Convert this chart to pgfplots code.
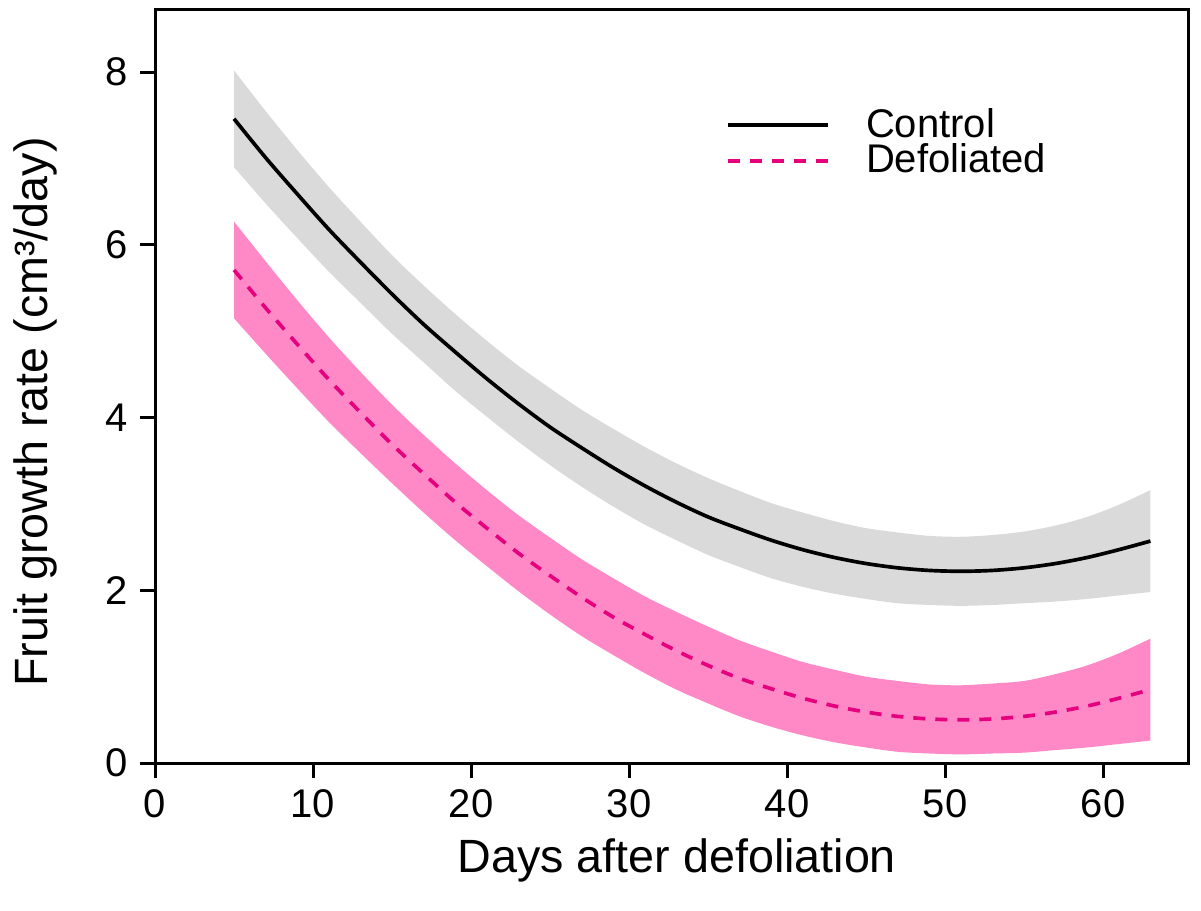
\documentclass[border=0pt]{standalone}
\usepackage{fontspec}
\setmainfont{Liberation Sans}
\usepackage{pgfplots}
\usepackage{pgfplotstable}
\pgfplotsset{compat=1.18}
\usepgfplotslibrary{fillbetween}

\definecolor{bandgray}{RGB}{218,218,218}
\definecolor{bandpink}{RGB}{255,137,199}
\definecolor{defol}{RGB}{230,0,126}

% fitted curves and confidence bands
\pgfplotstableread{
x   c     clo   chi
5   7.46  6.90  8.02
7   7.01  6.48  7.55
9   6.59  6.08  7.10
11  6.18  5.69  6.67
13  5.80  5.33  6.27
15  5.43  4.97  5.88
17  5.08  4.64  5.53
19  4.76  4.31  5.20
21  4.45  4.01  4.89
23  4.16  3.72  4.60
25  3.89  3.45  4.34
27  3.65  3.20  4.09
29  3.42  2.97  3.87
31  3.21  2.76  3.66
33  3.02  2.58  3.47
35  2.85  2.41  3.30
37  2.71  2.27  3.15
39  2.58  2.14  3.01
41  2.47  2.04  2.90
43  2.38  1.96  2.80
45  2.31  1.90  2.72
47  2.26  1.85  2.67
49  2.23  1.83  2.63
51  2.22  1.82  2.62
53  2.23  1.83  2.64
55  2.26  1.85  2.68
57  2.31  1.87  2.75
59  2.38  1.90  2.85
61  2.47  1.94  2.99
63  2.57  1.98  3.16
}\ctrl

\pgfplotstableread{
x   d     dlo   dhi
5   5.71  5.15  6.27
7   5.27  4.74  5.81
9   4.85  4.34  5.36
11  4.44  3.95  4.93
13  4.06  3.59  4.53
15  3.69  3.24  4.15
17  3.35  2.90  3.80
19  3.02  2.58  3.47
21  2.72  2.28  3.16
23  2.43  1.99  2.87
25  2.17  1.72  2.61
27  1.92  1.47  2.36
29  1.69  1.25  2.14
31  1.49  1.04  1.93
33  1.30  0.85  1.75
35  1.13  0.69  1.58
37  0.98  0.54  1.42
39  0.86  0.42  1.29
41  0.75  0.32  1.17
43  0.66  0.24  1.08
45  0.59  0.18  1.00
47  0.54  0.13  0.95
49  0.51  0.11  0.91
51  0.50  0.10  0.90
53  0.51  0.11  0.92
55  0.54  0.12  0.95
57  0.59  0.15  1.03
59  0.66  0.18  1.13
61  0.75  0.22  1.27
63  0.85  0.26  1.44
}\defo

\begin{document}
\begin{tikzpicture}
\begin{axis}[
    at={(0,0)}, anchor=south west,
    scale only axis,
    width=310pt, height=225.9pt,
    xmin=0, xmax=65.4,
    ymin=0, ymax=8.72,
    xtick={0,10,...,60},
    ytick={0,2,4,6,8},
    tick align=outside,
    xtick pos=bottom, ytick pos=left,
    major tick length=4.5pt,
    axis line style={line width=0.9pt},
    every tick/.style={black, line width=0.9pt},
    /pgf/number format/assume math mode=true,
    ticklabel style={font=\fontsize{12}{14}\selectfont},
    xlabel={Days after defoliation},
    ylabel={Fruit growth rate (cm³/day)},
    label style={font=\fontsize{14}{16}\selectfont},
    xlabel style={at={(axis description cs:0.505,-0.13)}, anchor=center},
    ylabel style={at={(axis description cs:-0.116,0.466)}, anchor=center},
    legend style={at={(0.542,0.888)}, anchor=north west, draw=none, fill=none,
        font=\fontsize{12}{14}\selectfont, row sep=-3.5pt},
    legend cell align=left,
    legend image code/.code={\draw[#1] (0pt,0pt) -- (30pt,0pt);},
    /tikz/every odd column/.append style={column sep=9pt},
]
% bands
\addplot[name path=cu, draw=none, smooth, forget plot] table[x=x, y=chi] {\ctrl};
\addplot[name path=cl, draw=none, smooth, forget plot] table[x=x, y=clo] {\ctrl};
\addplot[bandgray, forget plot] fill between[of=cu and cl];
\addplot[name path=du, draw=none, smooth, forget plot] table[x=x, y=dhi] {\defo};
\addplot[name path=dl, draw=none, smooth, forget plot] table[x=x, y=dlo] {\defo};
\addplot[bandpink, forget plot] fill between[of=du and dl];
% fitted lines
\addplot[black, line width=1.1pt, smooth] table[x=x, y=c] {\ctrl};
\addlegendentry{Control}
\addplot[defol, line width=1.1pt, smooth, dash pattern=on 3.6pt off 3pt] table[x=x, y=d] {\defo};
\addlegendentry{Defoliated}
\end{axis}
% page frame matching the reference margins
\path (-46.5pt,-44.1pt) rectangle (313.8pt,228.9pt);
\end{tikzpicture}
\end{document}
